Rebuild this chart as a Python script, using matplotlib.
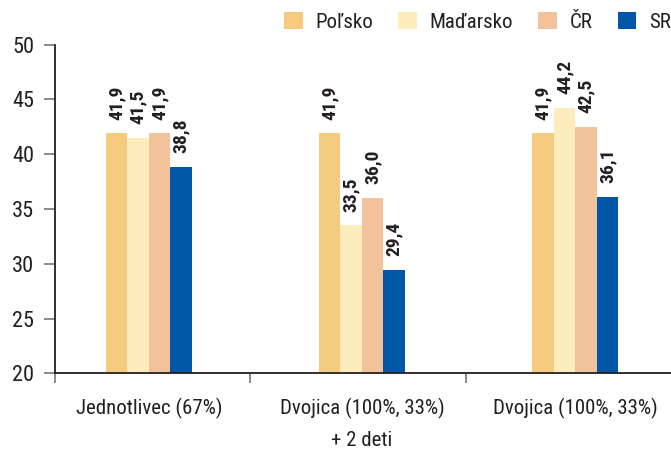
import matplotlib
matplotlib.use("Agg")
import matplotlib.pyplot as plt
from matplotlib import font_manager
from matplotlib.patches import Patch
import numpy as np

# ---- data ----
categories = ["Jednotlivec (67%)", "Dvojica (100%, 33%)\n+ 2 deti", "Dvojica (100%, 33%)"]
series_names = ["Poľsko", "Maďarsko", "ČR", "SR"]
polsko = [41.9, 41.9, 41.9]
madarsko = [41.5, 33.5, 44.2]
cr = [41.9, 36.0, 42.5]
sr = [38.8, 29.4, 36.1]
y_ticks = [20, 25, 30, 35, 40, 45, 50]

colors = ["#F5CB80", "#FEEDBC", "#F2C39B", "#0057A8"]

avail = {f.name for f in font_manager.fontManager.ttflist}
family = "DejaVu Sans"
for cand in ["Liberation Sans Narrow", "Roboto Condensed", "Open Sans Condensed", "Liberation Sans"]:
    if cand in avail:
        family = cand
        break
plt.rcParams["font.family"] = [family, "DejaVu Sans"]
text_color = "#231F20"

fig = plt.figure(figsize=(6.71, 4.49), dpi=100)
W, H = 671, 449
ax = fig.add_axes([55 / W, 1 - 373.3 / H, 1 - 55 / W, (373.3 - 44.7) / H])

x = np.arange(len(categories))
bw = 0.101
all_series = [polsko, madarsko, cr, sr]
for i, (vals, col) in enumerate(zip(all_series, colors)):
    pos = x + (i - 1.5) * bw
    ax.bar(pos, np.array(vals) - 20, bottom=20, width=bw, color=col, linewidth=0)
    for p, v in zip(pos, vals):
        ax.annotate(f"{v:.1f}".replace(".", ","), xy=(p, v), xytext=(0, 10),
                    textcoords="offset points", rotation=90, ha="center", va="bottom",
                    fontsize=14, fontweight="bold", color=text_color)

ax.set_ylim(20, 50)
ax.set_xlim(-0.44, 2.45)
ax.set_yticks(y_ticks)
ax.set_yticklabels([str(t) for t in y_ticks], fontsize=16, color=text_color)

# separators as x ticks
ax.set_xticks([-0.44, 0.474, 1.488])
ax.set_xticklabels([])
ax.tick_params(axis="x", length=7.5, width=1.2, color="#777777", direction="out")
ax.tick_params(axis="y", length=8, width=1.2, color="#777777", pad=7)
for i, lab in enumerate(categories):
    ax.annotate(lab, xy=(x[i], 20), xytext=(0, -18), textcoords="offset points",
                ha="center", va="top", fontsize=15, color=text_color, linespacing=1.75,
                annotation_clip=False)

for s in ["top", "right"]:
    ax.spines[s].set_visible(False)
for s in ["left", "bottom"]:
    ax.spines[s].set_color("#231F20")
    ax.spines[s].set_linewidth(1.3)
ax.spines["left"].set_bounds(20, 50)

handles = [Patch(facecolor=c, edgecolor="none", label=n) for c, n in zip(colors, series_names)]
leg = fig.legend(handles=handles, loc="center left", bbox_to_anchor=(284 / W, 1 - 22 / H),
                 ncol=4, frameon=False, fontsize=15, handlelength=0.91, handleheight=0.91,
                 handletextpad=0.6, columnspacing=1.2, borderpad=0, borderaxespad=0)
for t in leg.get_texts():
    t.set_color(text_color)

fig.savefig("out.png", dpi=100)
